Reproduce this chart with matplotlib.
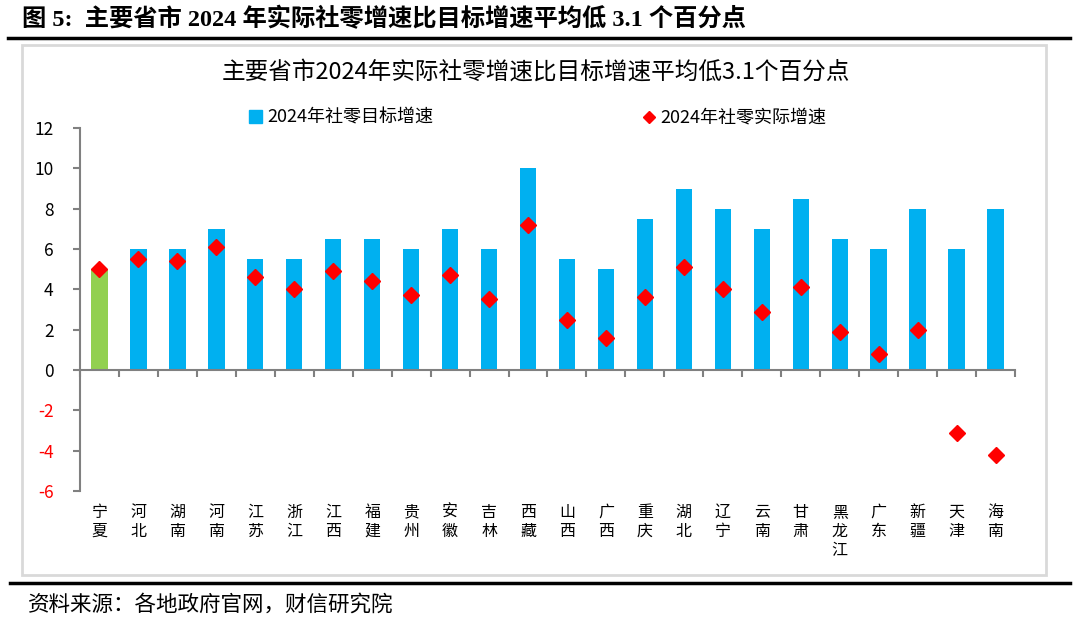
import matplotlib.pyplot as plt
from matplotlib.patches import Rectangle
from matplotlib.lines import Line2D

plt.rcParams['font.family'] = ['Noto Sans CJK SC', 'DejaVu Sans']

provinces = ['宁夏', '河北', '湖南', '河南', '江苏', '浙江', '江西', '福建', '贵州', '安徽',
             '吉林', '西藏', '山西', '广西', '重庆', '湖北', '辽宁', '云南', '甘肃', '黑龙江',
             '广东', '新疆', '天津', '海南']
target = [5, 6, 6, 7, 5.5, 5.5, 6.5, 6.5, 6, 7, 6, 10, 5.5, 5, 7.5, 9, 8, 7, 8.5, 6.5,
          6, 8, 6, 8]
actual = [5.0, 5.5, 5.4, 6.1, 4.6, 4.0, 4.9, 4.4, 3.7, 4.7, 3.5, 7.2, 2.5, 1.6, 3.6, 5.1,
          4.0, 2.9, 4.1, 1.9, 0.8, 2.0, -3.1, -4.2]
yticks = [12, 10, 8, 6, 4, 2, 0, -2, -4, -6]

blue = '#00B0F0'
green = '#92D050'
red = '#FF0000'
gray = '#808080'

fig = plt.figure(figsize=(10.8, 6.3), dpi=100)
W, H = 1080, 630

# header / footer
fig.text(22 / W, 1 - 19 / H, '图 5:  主要省市 2024 年实际社零增速比目标增速平均低 3.1 个百分点',
         fontsize=17.5, fontweight='bold', va='center', ha='left',
         family=['Liberation Serif', 'Noto Sans CJK SC'])
fig.add_artist(Line2D([8 / W, 1070 / W], [1 - 38 / H, 1 - 38 / H], color='black', lw=2.5))
fig.add_artist(Line2D([10 / W, 1070 / W], [1 - 583 / H, 1 - 583 / H], color='black', lw=2.5))
fig.text(28 / W, 1 - 605 / H, '资料来源：各地政府官网，财信研究院', fontsize=15.5,
         style='italic', va='center', ha='left')
fig.add_artist(Rectangle((22 / W, 1 - 575 / H), (1046 - 22) / W, (575 - 45) / H,
                         transform=fig.transFigure, fill=False, edgecolor='#d9d9d9', lw=2))

fig.text(536 / W, 1 - 72 / H, '主要省市2024年实际社零增速比目标增速平均低3.1个百分点',
         fontsize=17, ha='center', va='center')

ax = fig.add_axes([80 / W, 1 - 491 / H, (1015 - 80) / W, (491 - 128) / H])
x = list(range(len(provinces)))
colors = [green] + [blue] * (len(provinces) - 1)
bars = ax.bar(x, target, width=0.42, color=colors, zorder=2)
pts, = ax.plot(x, actual, linestyle='none', marker='D', markersize=8, color=red, zorder=3)

ax.set_xlim(-0.5, len(provinces) - 0.5)
ax.set_ylim(-6, 12)
ax.set_yticks(yticks)
ax.set_yticklabels([str(v) for v in yticks], fontsize=12.5)
for lab, v in zip(ax.get_yticklabels(), yticks):
    if v < 0:
        lab.set_color(red)

for s in ['top', 'right']:
    ax.spines[s].set_visible(False)
ax.spines['left'].set_color(gray)
ax.spines['left'].set_linewidth(1.5)
ax.spines['bottom'].set_position(('data', 0))
ax.spines['bottom'].set_color(gray)
ax.spines['bottom'].set_linewidth(1.5)
ax.tick_params(axis='y', direction='out', length=5, width=1.5, color=gray, pad=14)
ax.set_xticks([i - 0.5 for i in range(len(provinces) + 1)])
ax.set_xticklabels([])
ax.tick_params(axis='x', direction='out', length=5, width=1.5, color=gray)

for i, name in enumerate(provinces):
    ax.text(i, -0.035, '\n'.join(name), transform=ax.get_xaxis_transform(),
            ha='center', va='top', fontsize=11.5, linespacing=1.15)

legend_bar = Rectangle((0, 0), 1, 1, color=blue)
legend_pt = Line2D([], [], linestyle='none', marker='D', markersize=6, color=red)
fig.legend([legend_bar, legend_pt], ['2024年社零目标增速', '2024年社零实际增速'],
           loc='center left', bbox_to_anchor=(242 / W, 1 - 118 / H), ncol=2,
           frameon=False, fontsize=13, handlelength=0.7, handletextpad=0.3,
           columnspacing=11.6, borderaxespad=0)

fig.savefig('out.png', dpi=100)
